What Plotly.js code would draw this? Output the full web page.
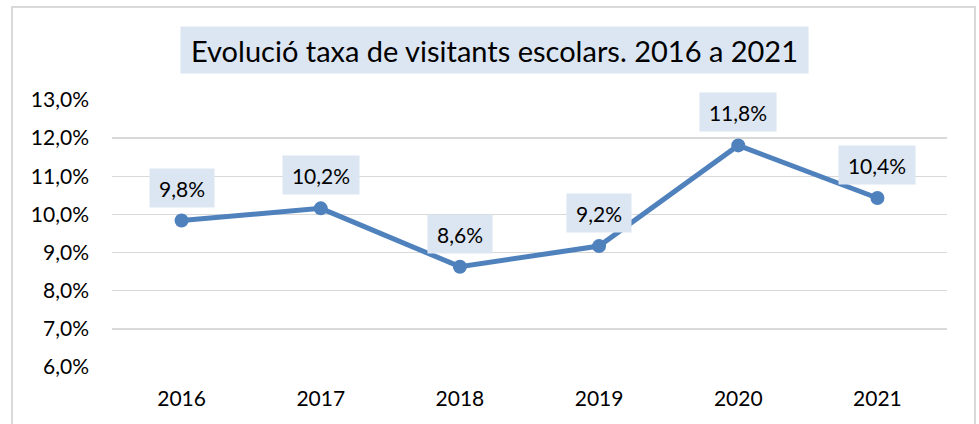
<!DOCTYPE html>
<html><head><meta charset="utf-8">
<script src="https://cdn.plot.ly/plotly-3.0.1.min.js"></script>
<style>html,body{margin:0;padding:0;background:#fff;}#chart{width:979px;height:424px;}</style>
</head><body><div id="chart"></div>
<script>
const years = ['2016','2017','2018','2019','2020','2021'];
const rates = [9.84, 10.16, 8.63, 9.17, 11.81, 10.43];
const labels = ['9,8%','10,2%','8,6%','9,2%','11,8%','10,4%'];
const yTicks = [6,7,8,9,10,11,12,13];
const yTickText = ['6,0%','7,0%','8,0%','9,0%','10,0%','11,0%','12,0%','13,0%'];
const titleText = 'Evolució taxa de visitants escolars. 2016 a 2021';

const W = 979, H = 424, L = 112, R = 32, T = 100, B = 57;
const pw = W - L - R, ph = H - T - B;
const px = v => (v - L) / pw;
const py = v => 1 - (v - T) / ph;
const FONT = 'Lato, Carlito, Calibri, sans-serif';

const annotations = years.map((yr, i) => ({
  x: i, y: rates[i], xref: 'x', yref: 'y',
  text: labels[i], showarrow: false, yshift: 33,
  xanchor: 'center', yanchor: 'middle',
  bgcolor: '#dce6f2', borderpad: 6,
  width: labels[i].length * 12 + 4, height: 26,
  font: {family: FONT, size: 21, color: '#000'}
}));
annotations.push({
  xref: 'paper', yref: 'paper', x: px(494.5), y: py(50),
  text: titleText, showarrow: false, xanchor: 'center', yanchor: 'middle',
  bgcolor: '#dce6f2', borderpad: 6, width: 615, height: 34,
  font: {family: FONT, size: 29, color: '#000'}
});

const data = [{
  x: years, y: rates, type: 'scatter', mode: 'lines+markers',
  line: {color: '#4f81bd', width: 5},
  marker: {color: '#4f81bd', size: 14},
  hoverinfo: 'skip'
}];

const layout = {
  width: W, height: H,
  margin: {l: L, r: R, t: T, b: B, pad: 0},
  paper_bgcolor: '#fff', plot_bgcolor: '#fff',
  showlegend: false,
  font: {family: FONT, size: 21, color: '#000'},
  xaxis: {
    type: 'category', range: [-0.5, 5.5], showgrid: false, zeroline: false,
    showline: false, ticks: '', tickfont: {family: FONT, size: 21, color: '#000'},
    ticklabelstandoff: 17, fixedrange: true
  },
  yaxis: {
    range: [6, 13], tickvals: yTicks, ticktext: yTickText,
    showgrid: true, gridcolor: '#d9d9d9', gridwidth: 1.5,
    zeroline: false, showline: false, ticks: '',
    tickfont: {family: FONT, size: 21, color: '#000'},
    ticklabelstandoff: 22, fixedrange: true
  },
  annotations: annotations,
  shapes: [{
    type: 'path', xref: 'paper', yref: 'paper',
    path: 'M ' + px(12) + ' ' + py(440) + ' L ' + px(12) + ' ' + py(7) +
          ' L ' + px(975) + ' ' + py(7) + ' L ' + px(975) + ' ' + py(440),
    line: {color: '#d9d9d9', width: 2}, layer: 'below'
  }]
};

Plotly.newPlot('chart', data, layout, {displayModeBar: false, staticPlot: true});
</script></body></html>
